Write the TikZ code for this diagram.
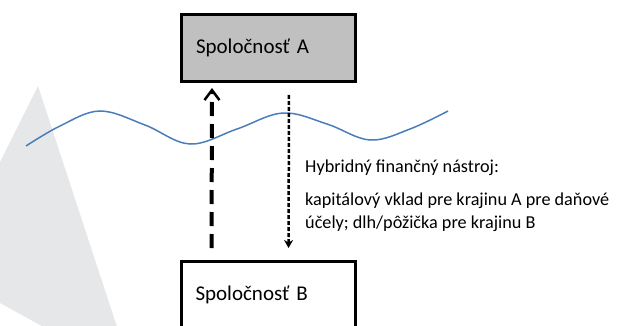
\documentclass[tikz,border=0pt]{standalone}
\usepackage{fontspec}
\setmainfont{Carlito}
\usetikzlibrary{arrows.meta,positioning}
\definecolor{boxgray}{HTML}{C0C0C0}
\definecolor{shadegray}{HTML}{E6E7E8}
\definecolor{waveblue}{HTML}{4A7EBB}

\begin{document}
\begin{tikzpicture}[x=1pt,y=-1pt,
	company/.style={draw=black,line width=3pt,minimum width=174pt,minimum height=67pt,inner sep=0pt,text width=145pt,align=left,font=\fontsize{21}{25}\selectfont},
	equityflow/.style={line width=4pt,dash pattern=on 14pt off 8pt,-{Straight Barb[length=10pt,width=15pt,line width=2.5pt]}},
	loanflow/.style={line width=2.5pt,dash pattern=on 4pt off 2pt,-{Stealth[length=8pt,width=9pt]}}]
			\useasboundingbox (0,0) rectangle (620,326);
			\fill [shadegray] (38,86) -- (118,330) -- (49,330) -- (0,303) -- (0,162) -- cycle;
			\draw [waveblue,line width=1.5pt] plot[smooth,tension=0.6] coordinates {(26,146) (60,126) (100,111) (145,125) (190,144) (237,129) (283,113) (327,124) (370,140) (410,129) (448,111)};
			\node [company,fill=boxgray] (spolA) at (268.5,48) {Spoločnosť A};
			\node [company,fill=white] (spolB) at (268,295) {Spoločnosť B};
			\draw [equityflow,shorten <=12pt,shorten >=5pt] ([xshift=-56.5pt]spolB.north) -- ([xshift=-56.5pt]spolA.south);
			\draw [loanflow,shorten <=12pt,shorten >=12pt] ([xshift=20.5pt]spolA.south) -- ([xshift=20.5pt]spolB.north);
			\node [anchor=north west,inner sep=0pt,align=left,font=\fontsize{18.2}{23}\selectfont] (nastroj) at (305,160) {Hybridný finančný nástroj:\\[10pt]kapitálový vklad pre krajinu A pre daňové\\účely; dlh/pôžička pre krajinu B};
			\end{tikzpicture}
\end{document}
